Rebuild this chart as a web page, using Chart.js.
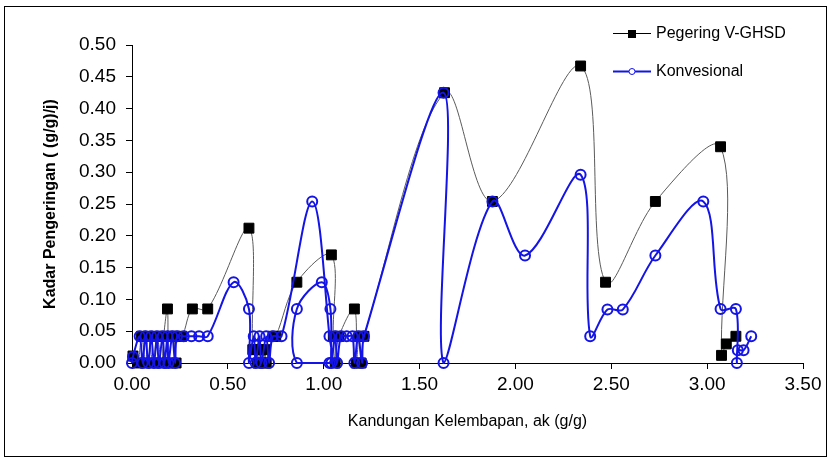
<!DOCTYPE html>
<html>
<head>
<meta charset="utf-8">
<script src="https://cdn.jsdelivr.net/npm/chart.js@4.4.1/dist/chart.umd.min.js"></script>
<style>
  html, body { margin: 0; padding: 0; background: #fff; }
  #wrap { width: 831px; height: 458px; }
</style>
</head>
<body>
<div id="wrap"><canvas id="dryChart" width="831" height="458"></canvas></div>
<script>
// Pegering V-GHSD (x = kandungan kelembapan, y = kadar pengeringan)
const ghsdX = [0.005, 0.03, 0.05, 0.07, 0.085, 0.11, 0.13, 0.155, 0.165, 0.185, 0.19, 0.21, 0.23, 0.225, 0.26, 0.315, 0.395,
    0.61, 0.63, 0.645, 0.655, 0.67, 0.685, 0.695, 0.70, 0.735, 0.75, 0.86, 1.04, 1.05, 1.06, 1.08, 1.16, 1.17, 1.185, 1.195, 1.21,
    1.63, 1.88, 2.34, 2.47, 2.73, 3.07, 3.075, 3.10, 3.15];
const ghsdY = [0.011, 0, 0.042, 0, 0.042, 0, 0.042, 0, 0.042, 0.085, 0, 0.042, 0, 0.042, 0.042, 0.085, 0.085,
    0.212, 0.021, 0.021, 0, 0.021, 0, 0.021, 0, 0.042, 0.042, 0.127, 0.17, 0.042, 0, 0.042, 0.085, 0, 0.042, 0, 0.042,
    0.425, 0.254, 0.467, 0.127, 0.254, 0.34, 0.012, 0.03, 0.042];

// Konvesional
const konvX = [0.0, 0.005, 0.04, 0.055, 0.07, 0.085, 0.10, 0.115, 0.13, 0.14, 0.16, 0.17, 0.185, 0.19, 0.21, 0.225, 0.235,
    0.27, 0.31, 0.35, 0.395, 0.53, 0.61, 0.61, 0.635, 0.645, 0.665, 0.675, 0.70, 0.715, 0.735, 0.78, 0.94, 1.03, 1.03,
    0.86, 0.86, 0.99, 1.035, 1.04, 1.06, 1.07, 1.09, 1.12, 1.15, 1.16, 1.18, 1.20, 1.21,
    1.625, 1.625, 1.88, 2.05, 2.34, 2.39, 2.48, 2.56, 2.73, 2.98, 3.07, 3.15, 3.155, 3.16, 3.19, 3.23];
const konvY = [0, 0.01, 0.042, 0, 0.042, 0, 0.042, 0, 0.042, 0, 0.042, 0, 0.042, 0, 0.042, 0, 0.042,
    0.042, 0.042, 0.042, 0.042, 0.127, 0.085, 0, 0.042, 0, 0.042, 0, 0.042, 0, 0.042, 0.042, 0.254, 0.042, 0,
    0, 0.085, 0.127, 0.085, 0, 0.042, 0, 0.042, 0.042, 0.042, 0, 0.042, 0, 0.042,
    0.425, 0, 0.254, 0.169, 0.296, 0.042, 0.084, 0.084, 0.169, 0.254, 0.085, 0.085, 0, 0.02, 0.02, 0.042];

const seriesNames = ['Pegering V-GHSD', 'Konvesional'];
const xTicks = [0, 0.5, 1, 1.5, 2, 2.5, 3, 3.5];
const yTicks = [0, 0.05, 0.1, 0.15, 0.2, 0.25, 0.3, 0.35, 0.4, 0.45, 0.5];

const toPoints = (xs, ys) => xs.map((x, i) => ({ x: x, y: ys[i] }));

const FONT = "'Liberation Sans', Arial, sans-serif";
const BLUE = 'rgb(20, 20, 230)';

// frame round the whole picture + legend in the top right
const decorPlugin = {
    id: 'decor',
    afterDraw(chart) {
        const ctx = chart.ctx;
        ctx.save();
        ctx.strokeStyle = '#000';
        ctx.lineWidth = 1;
        ctx.strokeRect(4.5, 6.5, 822, 450);

        ctx.font = '16px ' + FONT;
        ctx.textBaseline = 'middle';
        ctx.fillStyle = '#000';

        // black item
        ctx.beginPath();
        ctx.moveTo(613, 33.5);
        ctx.lineTo(651, 33.5);
        ctx.strokeStyle = '#000';
        ctx.lineWidth = 1;
        ctx.stroke();
        ctx.fillRect(628, 30, 8, 8);
        ctx.fillText(seriesNames[0], 656, 34);

        // blue item
        ctx.beginPath();
        ctx.moveTo(613, 71.5);
        ctx.lineTo(651, 71.5);
        ctx.strokeStyle = BLUE;
        ctx.lineWidth = 2;
        ctx.stroke();
        ctx.beginPath();
        ctx.arc(632, 71.5, 3, 0, Math.PI * 2);
        ctx.fillStyle = '#fff';
        ctx.fill();
        ctx.lineWidth = 1;
        ctx.stroke();
        ctx.fillStyle = '#000';
        ctx.fillText(seriesNames[1], 656, 72);
        ctx.restore();
    }
};

const ctx = document.getElementById('dryChart').getContext('2d');
new Chart(ctx, {
    type: 'scatter',
    data: {
        datasets: [
            {
                label: seriesNames[1],
                data: toPoints(konvX, konvY),
                showLine: true,
                tension: 0.35,
                borderColor: BLUE,
                borderWidth: 2,
                pointStyle: 'circle',
                pointRadius: 5,
                pointBorderWidth: 2,
                pointBorderColor: BLUE,
                pointBackgroundColor: 'rgba(255,255,255,0)',
                clip: false,
                order: 0
            },
            {
                label: seriesNames[0],
                data: toPoints(ghsdX, ghsdY),
                showLine: true,
                tension: 0.35,
                borderColor: 'rgb(90, 90, 90)',
                borderWidth: 1,
                pointStyle: 'rect',
                pointRadius: 7,
                pointBorderWidth: 1,
                pointBorderColor: '#000',
                pointBackgroundColor: '#000',
                clip: false,
                order: 1
            }
        ]
    },
    options: {
        responsive: false,
        animation: false,
        layout: { padding: { left: 0, top: 45, right: 28, bottom: 0 } },
        plugins: {
            legend: { display: false },
            tooltip: { enabled: false }
        },
        scales: {
            x: {
                type: 'linear',
                min: 0,
                max: 3.5,
                afterFit: scale => { scale.height = 95; },
                afterBuildTicks: scale => { scale.ticks = xTicks.map(v => ({ value: v })); },
                ticks: {
                    padding: 4,
                    color: '#000',
                    font: { family: FONT, size: 19 },
                    callback: v => v.toFixed(2)
                },
                grid: { drawOnChartArea: false, drawTicks: true, tickLength: 6, color: '#000' },
                border: { color: '#000', width: 1 },
                title: {
                    display: true,
                    text: 'Kandungan Kelembapan, ak (g/g)',
                    color: '#000',
                    font: { family: FONT, size: 16 },
                    padding: { top: 0, bottom: 27 }
                }
            },
            y: {
                type: 'linear',
                min: 0,
                max: 0.5,
                afterFit: scale => { scale.width = 132; },
                afterBuildTicks: scale => { scale.ticks = yTicks.map(v => ({ value: v })); },
                ticks: {
                    padding: 10,
                    color: '#000',
                    font: { family: FONT, size: 19 },
                    callback: v => v.toFixed(2)
                },
                grid: { drawOnChartArea: false, drawTicks: true, tickLength: 6, color: '#000' },
                border: { color: '#000', width: 1 },
                title: {
                    display: true,
                    text: 'Kadar Pengeringan ( (g/g)/j)',
                    color: '#000',
                    font: { family: FONT, size: 16, weight: 'bold' },
                    padding: { top: 41, bottom: 0 }
                }
            }
        }
    },
    plugins: [decorPlugin]
});
</script>
</body>
</html>
